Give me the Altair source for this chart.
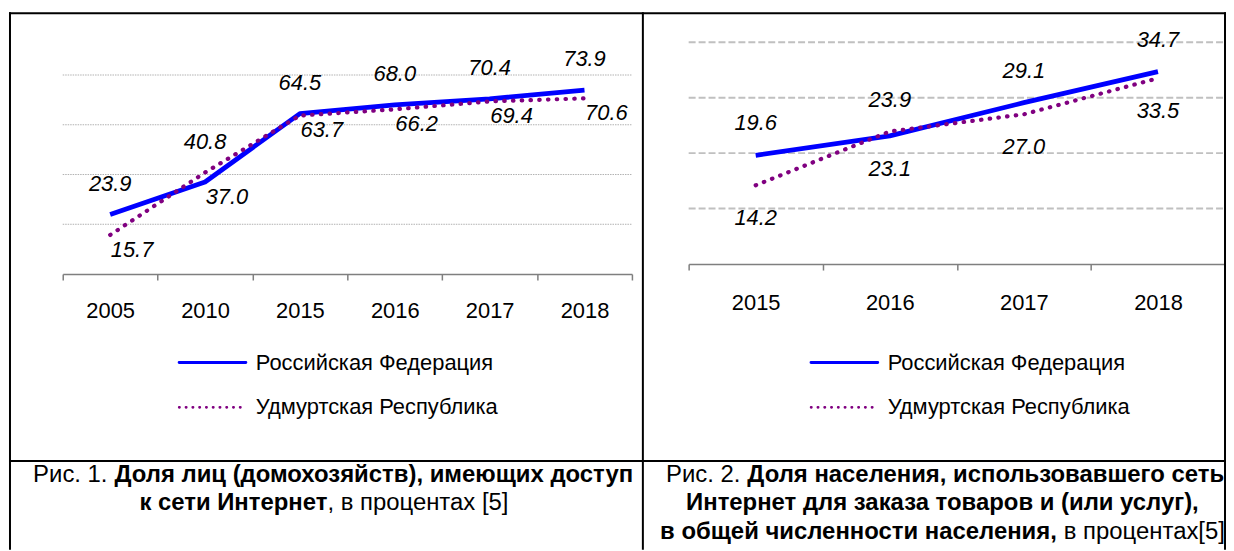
import altair as alt
import pandas as pd

# ---------------- data ----------------
years1 = ["2005", "2010", "2015", "2016", "2017", "2018"]
rf1 = [23.9, 37.0, 64.5, 68.0, 70.4, 73.9]
ur1 = [15.7, 40.8, 63.7, 66.2, 69.4, 70.6]

years2 = ["2015", "2016", "2017", "2018"]
rf2 = [19.6, 23.1, 29.1, 34.7]
ur2 = [14.2, 23.9, 27.0, 33.5]

series = ["Российская Федерация", "Удмуртская Республика"]
grid1 = [20, 40, 60, 80]
grid2 = [10, 20, 30, 40]

cap1_line1 = ["Рис. 1.", "Доля лиц (домохозяйств), имеющих доступ"]
cap1_line2 = ["к сети Интернет", ", в процентах [5]"]
cap2_line1 = ["Рис. 2.", "Доля населения, использовавшего сеть"]
cap2_line2 = ["Интернет для заказа товаров и (или услуг),"]
cap2_line3 = ["в общей численности населения,", "в процентах[5]"]

# ---------------- layout ----------------
W, H = 1224, 543
FONT = "Liberation Sans"
BLUE = "#0000ff"
PURPLE = "#800080"

P1 = dict(x0=55, x1=627, yaxis=266, ytop=66, ymax=80)
P2 = dict(x0=684, x1=1223, yaxis=256, ytop=33, ymax=40)


def long_df(years, rf, ur):
    rows = []
    for y, a, b in zip(years, rf, ur):
        rows.append({"year": y, "series": series[0], "value": a,
                     "pos": "upper" if a >= b else "lower"})
        rows.append({"year": y, "series": series[1], "value": b,
                     "pos": "upper" if b > a else "lower"})
    return pd.DataFrame(rows)


def panel(years, rf, ur, grid, P, grid_style, lbl_up, lbl_lo, legend_x, lab_pad):
    df = long_df(years, rf, ur)
    xs = alt.Scale(type="band", domain=years, range=[P["x0"], P["x1"]],
                   paddingInner=0, paddingOuter=0)
    ys = alt.Scale(domain=[0, P["ymax"]], range=[P["yaxis"], P["ytop"]],
                   zero=True, nice=False)
    base = alt.Chart(df)
    xenc = alt.X("year:N", scale=xs, bandPosition=0.5, axis=None)
    yenc = alt.Y("value:Q", scale=ys, axis=None)

    gdf = pd.DataFrame({"g": grid})
    gridl = alt.Chart(gdf).mark_rule(**grid_style).encode(
        y=alt.Y("g:Q", scale=ys, axis=None),
        x=alt.value(P["x0"]), x2=alt.value(P["x1"]),
    )

    axis_layer = base.mark_point(opacity=0).encode(
        x=alt.X("year:N", scale=xs, bandPosition=0.5,
                axis=alt.Axis(orient="bottom", offset=-(H - P["yaxis"]),
                              title=None, grid=False, tickBand="extent",
                              domainColor="#7f7f7f", domainWidth=1.5,
                              tickColor="#7f7f7f", tickWidth=1.5, tickSize=6,
                              labelFont=FONT, labelFontSize=22,
                              labelColor="#000000", labelAngle=0,
                              labelBaseline="middle", labelPadding=lab_pad)),
        y=yenc,
    )

    line_rf = base.transform_filter(alt.datum.series == series[0]).mark_line(
        color=BLUE, strokeWidth=4.8, strokeJoin="round", strokeCap="butt"
    ).encode(x=xenc, y=yenc)
    line_ur = base.transform_filter(alt.datum.series == series[1]).mark_line(
        color=PURPLE, strokeWidth=4.2, strokeDash=[0.5, 8.3], strokeCap="round"
    ).encode(x=xenc, y=yenc)

    lab_up = base.transform_filter(alt.datum.pos == "upper").mark_text(
        font=FONT, fontSize=22, fontStyle="italic", color="#000000",
        dx=lbl_up[0], dy=lbl_up[1], baseline="middle", align="center"
    ).encode(x=xenc, y=yenc, text=alt.Text("value:Q", format=".1f"))
    lab_lo = base.transform_filter(alt.datum.pos == "lower").mark_text(
        font=FONT, fontSize=22, fontStyle="italic", color="#000000",
        dx=lbl_lo[0], dy=lbl_lo[1], baseline="middle", align="center"
    ).encode(x=xenc, y=yenc, text=alt.Text("value:Q", format=".1f"))

    ldf = pd.DataFrame({"series": series})
    ly = alt.Y("series:N", scale=alt.Scale(type="point", domain=series,
                                           range=[355, 400], padding=0), axis=None)
    leg_lines = alt.Chart(ldf).mark_rule(strokeCap="round").encode(
        y=ly, x=alt.value(legend_x), x2=alt.value(legend_x + 67),
        color=alt.Color("series:N", scale=alt.Scale(domain=series, range=[BLUE, PURPLE]),
                        legend=None),
        strokeDash=alt.StrokeDash("series:N", scale=alt.Scale(domain=series,
                                  range=[[1, 0], [0.4, 6.4]]), legend=None),
        strokeWidth=alt.StrokeWidth("series:N", scale=alt.Scale(domain=series,
                                    range=[3, 2.6]), legend=None),
    )
    leg_text = alt.Chart(ldf).mark_text(
        font=FONT, fontSize=22, color="#000000", align="left", baseline="middle"
    ).encode(y=ly, x=alt.value(legend_x + 77), text="series:N")

    return [gridl, axis_layer, line_rf, line_ur, lab_up, lab_lo, leg_lines, leg_text]


layers = []
layers += panel(years1, rf1, ur1, grid1, P1,
                dict(color="#b0b0b0", strokeWidth=1, strokeDash=[1.5, 1]),
                (0, -31), (22, 15), 172, 31)
layers += panel(years2, rf2, ur2, grid2, P2,
                dict(color="#c0c0c0", strokeWidth=2, strokeDash=[7, 3]),
                (0, -32), (0, 33), 807, 33)

# table borders
one = pd.DataFrame({"a": [0]})
def hrule(y, x0, x1):
    return alt.Chart(one).mark_rule(color="#000000", strokeWidth=2).encode(
        x=alt.value(x0), x2=alt.value(x1), y=alt.value(y))
def vrule(x, y0, y1):
    return alt.Chart(one).mark_rule(color="#000000", strokeWidth=2).encode(
        x=alt.value(x), y=alt.value(y0), y2=alt.value(y1))

layers += [hrule(4, 1, W), hrule(454, 1, W),
           vrule(2, 3, H), vrule(638, 3, H), vrule(W - 1, 3, H)]


CAP = 24
def txt(s, x, y, align, bold):
    return alt.Chart(pd.DataFrame({"t": [s]})).mark_text(
        font=FONT, fontSize=CAP, color="#000000", align=align, baseline="alphabetic",
        fontWeight="bold" if bold else "normal"
    ).encode(x=alt.value(x), y=alt.value(y), text="t:N")

B1, B2, B3 = 475, 503.5, 532
layers += [
    txt(cap1_line1[0], 100, B1, "right", False),
    txt(cap1_line1[1], 107, B1, "left", True),
    txt(cap1_line2[0], 321, B2, "right", True),
    txt(cap1_line2[1], 321, B2, "left", False),
    txt(cap2_line1[0], 736, B1, "right", False),
    txt(cap2_line1[1], 743, B1, "left", True),
    txt(cap2_line2[0], 939, B2, "center", True),
    txt(cap2_line3[0], 1054, B3, "right", True),
    txt(cap2_line3[1], 1061, B3, "left", False),
]

chart = alt.layer(*layers).resolve_scale(
    x="independent", y="independent", color="independent",
    strokeDash="independent", strokeWidth="independent"
).properties(
    width=W, height=H, padding=0,
    autosize=alt.AutoSizeParams(type="none"),
    background="white",
).configure_view(stroke=None)

chart.save("out.html", embed_options={"renderer": "svg", "actions": False})
